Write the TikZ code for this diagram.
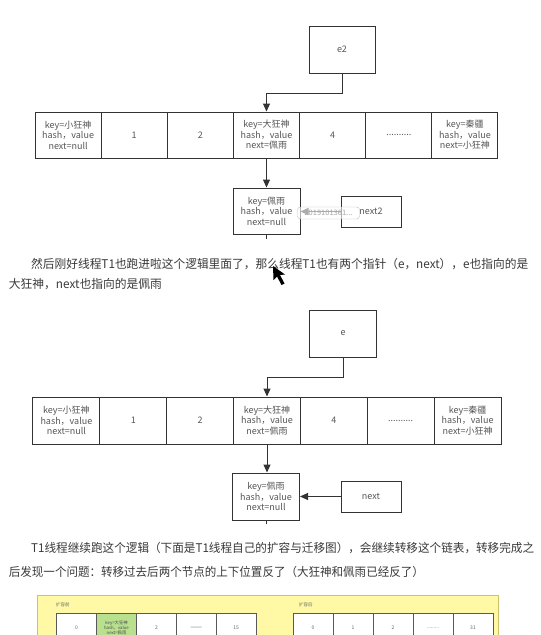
\documentclass[tikz,border=0pt]{standalone}
\usepackage{fontspec}
\usepackage{graphicx}
\setmainfont{Noto Sans CJK SC}
\usetikzlibrary{arrows.meta,calc}
\definecolor{bordc}{HTML}{333333}
\definecolor{boxtxt}{HTML}{555555}
\definecolor{paratxt}{HTML}{3A3A3A}
\definecolor{yelfill}{HTML}{FFF9A6}
\definecolor{yelbord}{HTML}{CFC36A}
\definecolor{grnfill}{HTML}{B9E08E}
\begin{document}
\begin{tikzpicture}[x=1pt,y=-1pt,
  cell/.style={draw=bordc,line width=1pt,inner sep=0pt,align=center,text=boxtxt,
    font=\fontsize{9}{10.5}\selectfont,minimum height=46pt},
  arr/.style={draw=bordc,line width=1pt,-{Triangle[width=7pt,length=8pt]}},
  para/.style={anchor=west,inner sep=0pt,text=paratxt,font=\fontsize{12}{14}\selectfont},
  tcell/.style={draw=black!65,line width=0.6pt,fill=white,inner sep=0pt,align=center,
    text=black!60,font=\fontsize{5}{5.5}\selectfont,minimum width=40pt,minimum height=30pt},
  ylabel/.style={anchor=west,inner sep=0pt,text=black!60,font=\fontsize{4.5}{5}\selectfont}
]
\useasboundingbox (0,0) rectangle (541,635);
\fill[white] (0,0) rectangle (541,635);

% ---------- diagram 1 ----------
\node[cell,minimum width=66pt,minimum height=47pt] (e2) at (342,49.5) {e2};
\node[cell,minimum width=66.1pt] (a1) at (68.1,135) {key=小狂神\\hash，value\\next=null};
\node[cell,minimum width=66.1pt] (a2) at (134.2,135) {1};
\node[cell,minimum width=66.1pt] (a3) at (200.3,135) {2};
\node[cell,minimum width=66.1pt] (a4) at (266.5,135) {key=大狂神\\hash，value\\next=佩雨};
\node[cell,minimum width=66.1pt] (a5) at (332.6,135) {4};
\node[cell,minimum width=66.1pt] (a6) at (398.8,135) {..........};
\node[cell,minimum width=66.1pt] (a7) at (464.9,135) {key=秦疆\\hash，value\\next=小狂神};
\draw[arr] (e2.south) -- ++(0,20) -| (a4.north);
\node[cell,minimum width=67pt] (n1) at (266.5,211) {key=佩雨\\hash，value\\next=null};
\draw[arr] (a4.south) -- (n1.north);
\draw[draw=bordc,line width=1pt] (n1.south) -- ++(0,4);
\node[cell,minimum width=60pt,minimum height=31pt] (nx2) at (371,211.5) {next2};
\draw[arr] (nx2.west) -- (nx2.west -| n1.east);
\node[draw=black!25,fill=white,fill opacity=0.6,text opacity=1,rounded corners=3pt,
  minimum width=62pt,minimum height=12pt,inner sep=0pt,text=black!35,
  font=\fontsize{7.5}{8}\selectfont] (tip) at (328.5,213) {2019101361...};

% ---------- paragraph 1 ----------
\node[para] (p1a) at (31,264) {\resizebox{497pt}{\height}{然后刚好线程T1也跑进啦这个逻辑里面了，那么线程T1也有两个指针（e，next），e也指向的是}};
\node[para] (p1b) at (8.7,284) {\resizebox{153pt}{\height}{大狂神，next也指向的是佩雨}};
% mouse cursor
\fill[black] (273,266) -- (273.5,280) -- (277,276.5) -- (281.5,285) -- (284.5,283.5) -- (280,275) -- (285,274.5) -- cycle;

% ---------- diagram 2 ----------
\node[cell,minimum width=67pt,minimum height=47pt] (e) at (343,333.5) {e};
\node[cell,minimum width=66.9pt,minimum height=47pt] (b1) at (66.4,420.5) {key=小狂神\\hash，value\\next=null};
\node[cell,minimum width=66.9pt,minimum height=47pt] (b2) at (133.3,420.5) {1};
\node[cell,minimum width=66.9pt,minimum height=47pt] (b3) at (200.1,420.5) {2};
\node[cell,minimum width=66.9pt,minimum height=47pt] (b4) at (267,420.5) {key=大狂神\\hash，value\\next=佩雨};
\node[cell,minimum width=66.9pt,minimum height=47pt] (b5) at (333.9,420.5) {4};
\node[cell,minimum width=66.9pt,minimum height=47pt] (b6) at (400.7,420.5) {..........};
\node[cell,minimum width=66.9pt,minimum height=47pt] (b7) at (467.6,420.5) {key=秦疆\\hash，value\\next=小狂神};
\draw[arr] (e.south) -- ++(0,20) -| (b4.north);
\node[cell,minimum width=67pt,minimum height=47pt] (n2) at (266,496.5) {key=佩雨\\hash，value\\next=null};
\draw[arr] (b4.south) -- (b4.south |- n2.north);
\draw[draw=bordc,line width=1pt] (n2.south) -- ++(0,3);
\node[cell,minimum width=60pt,minimum height=31pt] (nx) at (371,496.5) {next};
\draw[arr] (nx.west) -- (nx.west -| n2.east);

% ---------- paragraph 2 ----------
\node[para] (p2a) at (31,548) {\resizebox{503pt}{\height}{T1线程继续跑这个逻辑（下面是T1线程自己的扩容与迁移图），会继续转移这个链表，转移完成之}};
\node[para] (p2b) at (8.7,572) {\resizebox{415pt}{\height}{后发现一个问题：转移过去后两个节点的上下位置反了（大狂神和佩雨已经反了）}};

% ---------- resize figure ----------
\draw[fill=yelfill,draw=yelbord,line width=1pt] (37,595) rectangle (498,650);
\node[ylabel] (lb1) at (56,605) {扩容前};
\node[ylabel] (lb2) at (299,605) {扩容后};
\node[tcell] (c1) at (76.6,628) {0};
\node[tcell,fill=grnfill,text=black!70,font=\fontsize{4.3}{4.8}\selectfont] (c2) at (116.5,628) {key=大狂神\\hash，value\\next=佩雨};
\node[tcell] (c3) at (156.4,628) {2};
\node[tcell,font=\fontsize{7}{7}\selectfont] (c4) at (196.3,628) {——};
\node[tcell] (c5) at (236.2,628) {15};
\node[tcell] (d1) at (313,628) {0};
\node[tcell] (d2) at (353,628) {1};
\node[tcell] (d3) at (393,628) {2};
\node[tcell] (d4) at (433,628) {.........};
\node[tcell] (d5) at (473,628) {31};
\end{tikzpicture}
\end{document}
